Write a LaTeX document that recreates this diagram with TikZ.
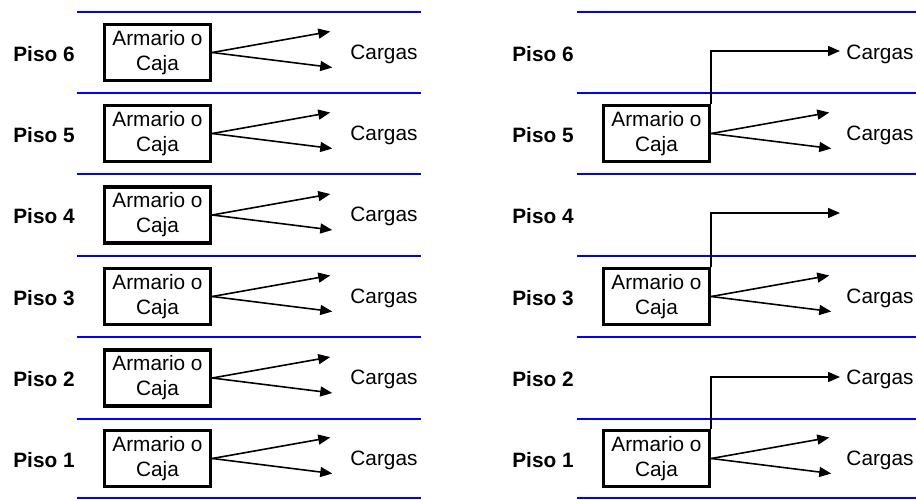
\documentclass[tikz,border=0pt]{standalone}
\usepackage{fontspec}
\setmainfont{Liberation Sans}
\usetikzlibrary{arrows.meta}

\begin{document}
\begin{tikzpicture}[x=1pt,y=-1pt,
	piso/.style={line width=2.6pt,blue},
	caja/.style={draw,line width=3.5pt,minimum width=106pt,minimum height=56pt,inner sep=0pt,align=center,font=\fontsize{20.8}{25}\selectfont},
	nivel/.style={font=\fontsize{20.8}{25}\selectfont\bfseries,yshift=-1.5pt},
	carga/.style={font=\fontsize{20.8}{25}\selectfont,yshift=-1.5pt},
	flecha/.style={-{Triangle[length=12pt,width=10pt]},line width=1.6pt}]
	\useasboundingbox (0,0) rectangle (916,500);
	% lineas de piso
	\foreach \y in {12,93,174,256,337,419,498}
	{
		\draw[piso] (77,\y) -- (421,\y);
		\draw[piso] (577,\y) -- (916,\y);
	}
	% izquierda: una caja por piso
	\foreach \i/\y in {6/52.5,5/133.5,4/215,3/296.5,2/378,1/458.5}
	{
		\node[nivel] (pl\i) at (44,\y) {Piso \i};
		\node[caja] (bl\i) at (157.5,\y) {Armario o\\Caja};
		\node[carga] (cl\i) at (384,\y) {Cargas};
		\path (bl\i.east) ++(118,-21) coordinate (ul\i);
		\path (bl\i.east) ++(120,15) coordinate (dl\i);
		\draw[flecha] (bl\i.east) -- (ul\i);
		\draw[flecha] (bl\i.east) -- (dl\i);
	}
	% derecha: una caja cada dos pisos
	\foreach \i/\y in {6/52.5,5/133.5,4/215,3/296.5,2/378,1/458.5}
	{
		\node[nivel] (pr\i) at (543,\y) {Piso \i};
	}
	\foreach \i/\y in {5/133.5,3/296.5,1/458.5}
	{
		\node[caja] (br\i) at (656.5,\y) {Armario o\\Caja};
		\node[carga] (cr\i) at (880,\y) {Cargas};
		\path (br\i.east) ++(118,-21) coordinate (ur\i);
		\path (br\i.east) ++(120,15) coordinate (dr\i);
		\draw[flecha] (br\i.east) -- (ur\i);
		\draw[flecha] (br\i.east) -- (dr\i);
	}
	\node[carga] (cr6) at (880,52.5) {Cargas};
	\node[carga] (cr2) at (880,378) {Cargas};
	\foreach \i/\j/\y in {5/6/51,3/4/213,1/2/377}
	{
		\coordinate (rr\j) at (840,\y);
		\draw[flecha] (br\i.north east) |- (rr\j);
	}
\end{tikzpicture}
\end{document}
